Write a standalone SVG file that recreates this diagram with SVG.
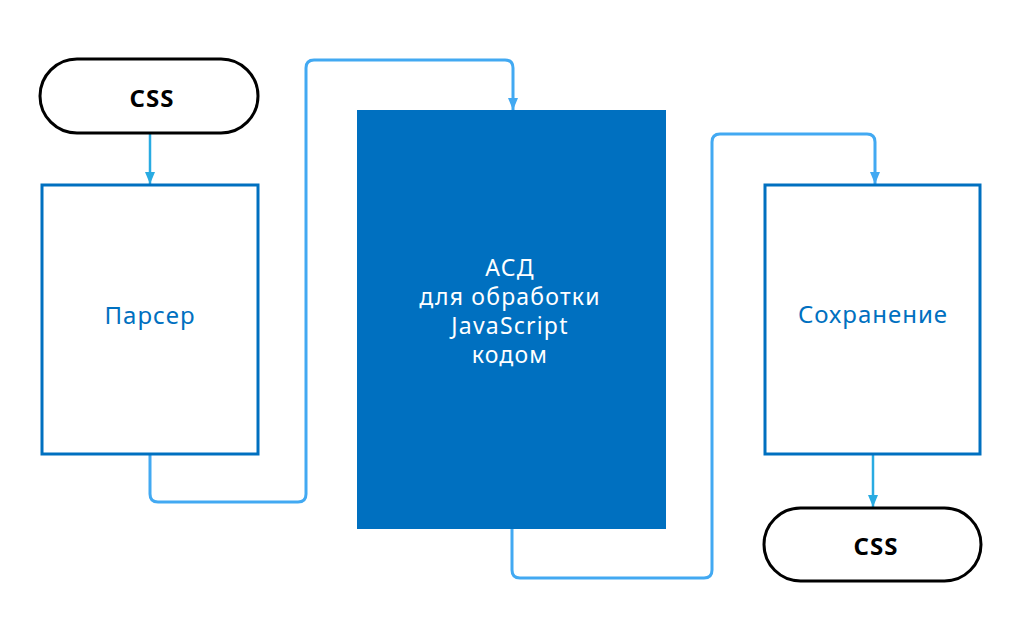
<svg xmlns="http://www.w3.org/2000/svg" width="1024" height="640" viewBox="0 0 1024 640">
<style>
.pill{fill:#fff;stroke:#000;stroke-width:3}
.box{fill:#fff;stroke:#0070c0;stroke-width:3}
.pt{font-family:"Noto Sans","Open Sans",sans-serif;font-size:24px;font-weight:bold;letter-spacing:1px;fill:#000;text-anchor:middle}
.bt{font-family:"Noto Sans","Open Sans",sans-serif;font-size:24px;letter-spacing:1px;fill:#0070c0;text-anchor:middle}
.wt{font-family:"Noto Sans","Open Sans",sans-serif;font-size:23px;letter-spacing:1.2px;fill:#fff;text-anchor:middle}
.c1{fill:none;stroke:#29abe2;stroke-width:2.5}
.c2{fill:none;stroke:#42a9f2;stroke-width:3}
</style>
<defs>
<marker id="a1" markerWidth="12" markerHeight="10" refX="12" refY="5" orient="auto" markerUnits="userSpaceOnUse"><path d="M0,0 L12,5 L0,10 z" fill="#29abe2"/></marker>
<marker id="a2" markerWidth="12" markerHeight="10" refX="12" refY="5" orient="auto" markerUnits="userSpaceOnUse"><path d="M0,0 L12,5 L0,10 z" fill="#42a9f2"/></marker>
</defs>
<rect width="1024" height="640" fill="#fff"/>
<g id="connectors">
<path class="c1" d="M150,134 V184" marker-end="url(#a1)"/>
<path class="c2" d="M150,455 V494 Q150,502 158,502 H298 Q306,502 306,494 V68 Q306,60 314,60 H505 Q513,60 513,68 V110" marker-end="url(#a2)"/>
<path class="c2" d="M512,529 V570 Q512,578 520,578 H704 Q712,578 712,570 V142 Q712,134 720,134 H867 Q875,134 875,142 V184" marker-end="url(#a2)"/>
<path class="c1" d="M873,455 V507" marker-end="url(#a1)"/>
</g>
<g id="css-in">
<rect class="pill" x="40" y="59" width="218" height="74" rx="37"/>
<text class="pt" x="152" y="107">CSS</text>
</g>
<g id="parser">
<rect class="box" x="42" y="185" width="216" height="269"/>
<text class="bt" x="150" y="324">Парсер</text>
</g>
<g id="ast">
<rect x="357" y="110" width="309" height="419" fill="#0070c0"/>
<text class="wt" x="510" y="276">АСД</text>
<text class="wt" x="510" y="305">для обработки</text>
<text class="wt" x="510" y="334">JavaScript</text>
<text class="wt" x="510" y="363">кодом</text>
</g>
<g id="save">
<rect class="box" x="765" y="185" width="215" height="269"/>
<text class="bt" x="873" y="323">Сохранение</text>
</g>
<g id="css-out">
<rect class="pill" x="764" y="508" width="217" height="73" rx="36.5"/>
<text class="pt" x="876" y="555">CSS</text>
</g>
</svg>
